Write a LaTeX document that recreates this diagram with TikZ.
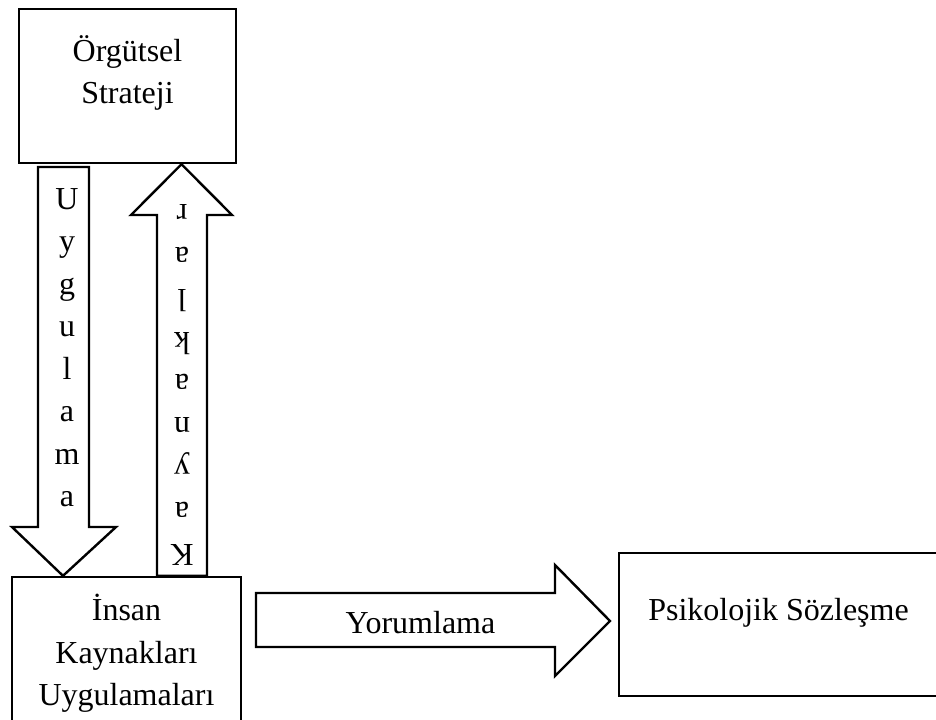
\documentclass[tikz,border=0pt]{standalone}
\usepackage{fontspec}
\setmainfont{Liberation Serif}

\begin{document}
\begin{tikzpicture}[x=0.5pt, y=-0.5pt, line width=1.2pt,
  kutu/.style={rectangle, draw, inner sep=0pt},
  yazi/.style={inner sep=0pt, align=center, font=\fontsize{16}{21.25}\selectfont}]
  \useasboundingbox (0,0) rectangle (936,719);
  \clip (0,0) rectangle (936,719);

  \node (strateji) [kutu, minimum width=108.5pt, minimum height=77pt] at (127.5,86) {};
  \node (insan) [kutu, minimum width=114.5pt, minimum height=74pt] at (126.5,651) {};
  \node (sozlesme) [kutu, minimum width=159.5pt, minimum height=71.5pt] at (778.5,624.5) {};

  \node (stratejitext) [yazi, anchor=north] at (127.5,34) {Örgütsel\\Strateji};
  \node (insantext) [yazi, anchor=north] at (126.5,593) {İnsan\\Kaynakları\\Uygulamaları};
  \node (sozlesmetext) [yazi, anchor=base] at (778.5,620) {Psikolojik Sözleşme};

  % block arrows
  \draw (38,167) -- (89,167) -- (89,527) -- (116,527) -- (insan.north -| 63,0)
    -- (12,527) -- (38,527) -- cycle;
  \draw (insan.north -| 157,0) -- (157,215) -- (131,215) -- (strateji.south -| 181.5,0)
    -- (232,215) -- (207,215) -- (insan.north -| 207,0) -- cycle;
  \draw (256,593) -- (555,593) -- (555,565) -- (610,621) -- (555,676)
    -- (555,647) -- (256,647) -- cycle;

  \node (uygulamatext) [yazi, anchor=north] at (67,187) {U\\y\\g\\u\\l\\a\\m\\a};
  \node (kaynaklartext) [yazi, rotate=180] at (182,385) {K\\a\\y\\n\\a\\k\\l\\a\\r};
  \node (yorumlamatext) [yazi, anchor=base] at (420.5,633) {Yorumlama};
\end{tikzpicture}
\end{document}
